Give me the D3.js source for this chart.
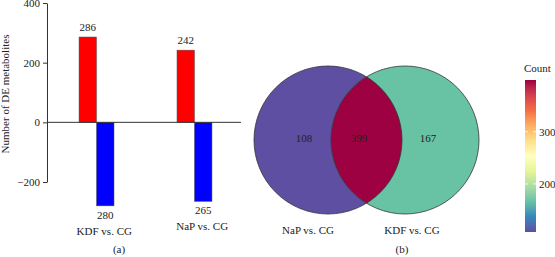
<!DOCTYPE html>
<html>
<head>
<meta charset="utf-8">
<script src="https://cdn.jsdelivr.net/npm/d3@7"></script>
<style>
  body { margin: 0; background: #fff; }
  svg text { font-family: "Liberation Serif", "Times New Roman", "DejaVu Serif", serif; }
</style>
</head>
<body>
<svg id="chart" width="555" height="257"></svg>
<script>
'use strict';
// bar chart data
const comparisons = ['KDF vs. CG', 'NaP vs. CG'];
const upCounts = [286, 242];
const downCounts = [280, 265];
const yTicks = [-200, 0, 200, 400];

// venn data
const vennSets = ['NaP vs. CG', 'KDF vs. CG'];
const vennOnly = [108, 167];
const vennShared = 399;
const countTicks = [200, 300];

const FONT = '"Liberation Serif", "Times New Roman", serif';
const svg = d3.select('#chart').attr('font-family', FONT);

/* ---------- (a) bar chart ---------- */
const y = d3.scaleLinear().domain([-200, 400]).range([182, 3]);
const x = d3.scaleBand().domain(comparisons).range([47, 244])
    .paddingInner(0.643).paddingOuter(0.327);
const half = x.bandwidth() / 2;

const yAxis = svg.append('g')
    .attr('transform', 'translate(47,0)')
    .call(d3.axisLeft(y).tickValues(yTicks).tickSize(4).tickSizeOuter(0)
        .tickFormat(d => d < 0 ? '\u2212' + Math.abs(d) : d));
yAxis.attr('font-family', FONT).attr('font-size', 11);
yAxis.select('.domain').attr('stroke', '#333');
yAxis.selectAll('.tick line').attr('stroke', '#333');
yAxis.selectAll('.tick text').attr('fill', '#222');

svg.append('text')
    .attr('transform', 'translate(9,' + y(95) + ') rotate(-90)')
    .attr('text-anchor', 'middle')
    .attr('font-size', 11)
    .attr('fill', '#222')
    .text('Number of DE metabolites');

const groups = svg.append('g').selectAll('g')
    .data(comparisons)
    .enter()
    .append('g');

groups.append('rect')
    .attr('x', d => x(d))
    .attr('y', (d, i) => y(upCounts[i]))
    .attr('width', half)
    .attr('height', (d, i) => y(0) - y(upCounts[i]))
    .attr('fill', '#ff0000')
    .attr('stroke', '#555')
    .attr('stroke-width', 0.5);

groups.append('rect')
    .attr('x', d => x(d) + half)
    .attr('y', y(0))
    .attr('width', half)
    .attr('height', (d, i) => y(-downCounts[i]) - y(0))
    .attr('fill', '#0000ff')
    .attr('stroke', '#555')
    .attr('stroke-width', 0.5);

groups.append('text')
    .attr('x', d => x(d) + half / 2)
    .attr('y', (d, i) => y(upCounts[i]) - 6)
    .attr('text-anchor', 'middle')
    .attr('font-size', 11)
    .attr('fill', '#222')
    .text((d, i) => upCounts[i]);

groups.append('text')
    .attr('x', d => x(d) + half * 1.5)
    .attr('y', (d, i) => y(-downCounts[i]) + 13)
    .attr('text-anchor', 'middle')
    .attr('font-size', 11)
    .attr('fill', '#222')
    .text((d, i) => downCounts[i]);

groups.append('text')
    .attr('x', d => x(d) + half * 1.5 - 1)
    .attr('y', (d, i) => y(-downCounts[i]) + 29)
    .attr('text-anchor', 'middle')
    .attr('font-size', 11)
    .attr('fill', '#222')
    .text(d => d);

svg.append('line')
    .attr('x1', 47).attr('x2', 241)
    .attr('y1', y(0)).attr('y2', y(0))
    .attr('stroke', '#333');

svg.append('text')
    .attr('x', 119).attr('y', 253)
    .attr('text-anchor', 'middle')
    .attr('font-size', 11)
    .attr('fill', '#222')
    .text('(a)');

/* ---------- (b) venn diagram ---------- */
const allCounts = vennOnly.concat([vennShared]);
const [cMin, cMax] = d3.extent(allCounts);
const spectral = d3.schemeSpectral[11].slice().reverse();
const color = d3.scaleLinear()
    .domain(spectral.map((c, i) => cMin + (cMax - cMin) * i / (spectral.length - 1)))
    .range(spectral)
    .interpolate(d3.interpolateLab);

const radius = 74;
const cy = 140;
const centers = [328, 405];

const defs = svg.append('defs');
defs.append('clipPath').attr('id', 'clipLeft')
    .append('circle').attr('cx', centers[0]).attr('cy', cy).attr('r', radius);

svg.append('circle')
    .attr('cx', centers[0]).attr('cy', cy).attr('r', radius)
    .attr('fill', color(vennOnly[0]));
svg.append('circle')
    .attr('cx', centers[1]).attr('cy', cy).attr('r', radius)
    .attr('fill', color(vennOnly[1]));
svg.append('circle')
    .attr('cx', centers[1]).attr('cy', cy).attr('r', radius)
    .attr('clip-path', 'url(#clipLeft)')
    .attr('fill', color(vennShared));

centers.forEach(c => {
    svg.append('circle')
        .attr('cx', c).attr('cy', cy).attr('r', radius)
        .attr('fill', 'none')
        .attr('stroke', '#333')
        .attr('stroke-width', 0.8);
});

const vennLabels = [
    { x: 304, v: vennOnly[0] },
    { x: 359, v: vennShared },
    { x: 428, v: vennOnly[1] }
];
svg.append('g').selectAll('text')
    .data(vennLabels)
    .enter()
    .append('text')
    .attr('x', d => d.x)
    .attr('y', cy + 2)
    .attr('text-anchor', 'middle')
    .attr('font-size', 11)
    .attr('fill', '#222')
    .text(d => d.v);

svg.append('g').selectAll('text')
    .data(vennSets)
    .enter()
    .append('text')
    .attr('x', (d, i) => [308, 412][i])
    .attr('y', 234)
    .attr('text-anchor', 'middle')
    .attr('font-size', 11)
    .attr('fill', '#222')
    .text(d => d);

svg.append('text')
    .attr('x', 402).attr('y', 253)
    .attr('text-anchor', 'middle')
    .attr('font-size', 11)
    .attr('fill', '#222')
    .text('(b)');

/* ---------- colour bar ---------- */
const barScale = d3.scaleLinear().domain([cMin, cMax]).range([232, 80]);
const grad = defs.append('linearGradient')
    .attr('id', 'countGrad')
    .attr('x1', 0).attr('y1', 1).attr('x2', 0).attr('y2', 0);
d3.range(0, 1.0001, 0.05).forEach(t => {
    grad.append('stop')
        .attr('offset', t)
        .attr('stop-color', color(cMin + t * (cMax - cMin)));
});

svg.append('rect')
    .attr('x', 525).attr('y', 80)
    .attr('width', 11).attr('height', 152)
    .attr('fill', 'url(#countGrad)');

const cbAxis = svg.append('g')
    .attr('transform', 'translate(536,0)')
    .call(d3.axisRight(barScale).tickValues(countTicks).tickSize(0).tickPadding(3));
cbAxis.attr('font-family', FONT).attr('font-size', 11);
cbAxis.select('.domain').remove();
cbAxis.selectAll('.tick text').attr('fill', '#222');

const cbTicks = svg.append('g').selectAll('g')
    .data(countTicks)
    .enter()
    .append('g');
[[525, 528], [533, 536]].forEach(([a, b]) => {
    cbTicks.append('line')
        .attr('x1', a).attr('x2', b)
        .attr('y1', d => barScale(d)).attr('y2', d => barScale(d))
        .attr('stroke', '#fff')
        .attr('stroke-opacity', 0.8);
});

svg.append('text')
    .attr('x', 524).attr('y', 72)
    .attr('font-size', 11)
    .attr('fill', '#222')
    .text('Count');
</script>
</body>
</html>
